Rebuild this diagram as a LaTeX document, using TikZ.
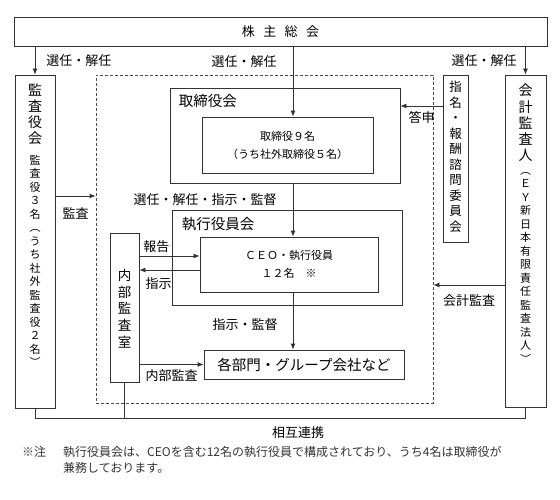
\documentclass[tikz,border=0pt]{standalone}
\usepackage{fontspec}
\setmainfont{Noto Sans CJK JP}
\usetikzlibrary{fit}
\usetikzlibrary{calc}
\usetikzlibrary{positioning}
\usetikzlibrary{arrows.meta}

\begin{document}
\begin{tikzpicture}[
  x=1pt, y=-1pt,
  box/.style={draw=black!80, line width=0.8pt, rectangle, inner sep=0pt},
  frame/.style={draw=black!70, line width=0.8pt, dash pattern=on 3pt off 2pt, inner sep=0pt},
  arr/.style={black!80, line width=0.8pt, -{Latex[length=6pt,width=5pt]}},
  conn/.style={black!80, line width=0.8pt},
  lbl/.style={font=\fontsize{13}{15}\selectfont, inner sep=1pt, black},
  head/.style={font=\fontsize{14.5}{16}\selectfont, inner sep=0pt},
  vtext/.style={align=center, inner sep=0pt},
  notetext/.style={font=\fontsize{12}{16}\selectfont, inner sep=0pt, black!80, align=left},
]
\useasboundingbox (0,0) rectangle (560,500);

% boxes
\node (agm) [box, fit={(14,17) (547,46)},
  label={[font=\fontsize{13}{15}\selectfont]center:{株\hspace{0.65em}主\hspace{0.65em}総\hspace{0.65em}会}}] {};
\node (kansayakukai) [box, fit={(15,75) (55,408)}] {};
\node (dashed) [frame, fit={(96,75) (433,403)}] {};
\node (torikai) [box, fit={(170,88) (400,183)}] {};
\node (torin) [box, fit={(202,117) (373,173)},
  label={[align=center, font=\fontsize{11}{18}\selectfont]center:{取締役９名\\（うち社外取締役５名）}}] {};
\node (shikkoukai) [box, fit={(172,210) (402,305)}] {};
\node (ceo) [box, fit={(200,237) (378,292)},
  label={[align=center, font=\fontsize{11}{18}\selectfont]center:{ＣＥＯ・執行役員\\１２名　※}}] {};
\node (naibu) [box, fit={(110,233) (139,382)}] {};
\node (kakubu) [box, fit={(204,350) (404,379)},
  label={[font=\fontsize{14.5}{16}\selectfont]center:{各部門・グループ会社など}}] {};
\node (iinkai) [box, fit={(443,75) (468,242)}] {};
\node (kaikei) [box, fit={(505,75) (546,407)}] {};

% texts in the boxes
\node (torikaiT) [head, below right=7pt and 9pt of torikai.north west] {取締役会};
\node (shikkoukaiT) [head, below right=8pt and 10pt of shikkoukai.north west] {執行役員会};

\node (kansayakukaiT) [vtext, font=\fontsize{14}{16}\selectfont] at (35,114) {監\\査\\役\\会};
\node (kansayakukaiS) [vtext, font=\fontsize{11}{13.5}\selectfont] at (35,261)
  {監\\査\\役\\３\\名\\︵\\う\\ち\\社\\外\\監\\査\\役\\２\\名\\︶};
\node (naibuT) [vtext, font=\fontsize{13.5}{16.75}\selectfont] at (124.5,308.5) {内\\部\\監\\査\\室};
\node (iinkaiT) [vtext, font=\fontsize{12.5}{15.5}\selectfont] at (455.5,157)
  {指\\名\\・\\報\\酬\\諮\\問\\委\\員\\会};
\node (kaikeiT) [vtext, font=\fontsize{14}{16.25}\selectfont] at (525.5,123) {会\\計\\監\\査\\人};
\node (kaikeiS) [vtext, font=\fontsize{11}{13.5}\selectfont] at (525.5,267.5)
  {︵\\Ｅ\\Ｙ\\新\\日\\本\\有\\限\\責\\任\\監\\査\\法\\人\\︶};

% arrows
\coordinate (spine) at (293,0);
\draw[arr] (agm.south -| kansayakukai.north) -- (kansayakukai.north)
  node[lbl, midway, right=10pt] {選任・解任};
\draw[arr] (agm.south -| spine) -- (torin.north -| spine)
  node[lbl, pos=0.21, left=15pt] {選任・解任};
\draw[arr] (agm.south -| kaikei.north) -- (kaikei.north)
  node[lbl, midway, left=7.5pt] {選任・解任};
\draw[arr] (torikai.south -| spine) -- (ceo.north -| spine)
  node[lbl, pos=0.31, left=15pt] {選任・解任・指示・監督};
\draw[arr] (ceo.south -| spine) -- (kakubu.north -| spine)
  node[lbl, pos=0.57, left=14pt] {指示・監督};

\coordinate (toushin) at ([yshift=52.5pt]iinkai.west);
\draw[arr] (toushin) -- (toushin -| torikai.east)
  node[lbl, midway, below=4pt] {答申};

\coordinate (kansa) at ([yshift=45.5pt]kansayakukai.east);
\draw[arr] (kansa) -- (kansa -| dashed.west)
  node[lbl, midway, below=10pt] {監査};

\coordinate (houkoku) at ([yshift=51.5pt]naibu.east);
\draw[arr] (houkoku) -- (houkoku -| ceo.west)
  node[lbl, pos=0.28, above=2pt] {報告};
\coordinate (shiji) at ([yshift=-5.5pt]ceo.west);
\draw[arr] (shiji) -- (shiji -| naibu.east)
  node[lbl, pos=0.68, below=6pt] {指示};

\draw[arr] (naibu.east |- kakubu.west) -- (kakubu.west)
  node[lbl, midway, below=4pt] {内部監査};

\coordinate (kaikeikansa) at ([yshift=-44pt]kaikei.west);
\draw[arr] (kaikeikansa) -- (kaikeikansa -| dashed.east)
  node[lbl, midway, below=8pt] {会計監査};

% mutual cooperation line
\coordinate (renkei) at (298,418);
\draw[conn] (kansayakukai.south) |- (renkei -| kaikei.south) -- (kaikei.south);
\draw[conn] (naibu.south) -- (naibu.south |- renkei);
\node (renkeiT) [lbl, below=7pt of renkei] {相互連携};

% note
\node (notemark) [notetext, anchor=north west] at (22,446) {※注};
\node (note) [notetext, anchor=north west] at (63,446)
  {執行役員会は、CEOを含む12名の執行役員で構成されており、うち4名は取締役が\\兼務しております。};
\end{tikzpicture}
\end{document}
